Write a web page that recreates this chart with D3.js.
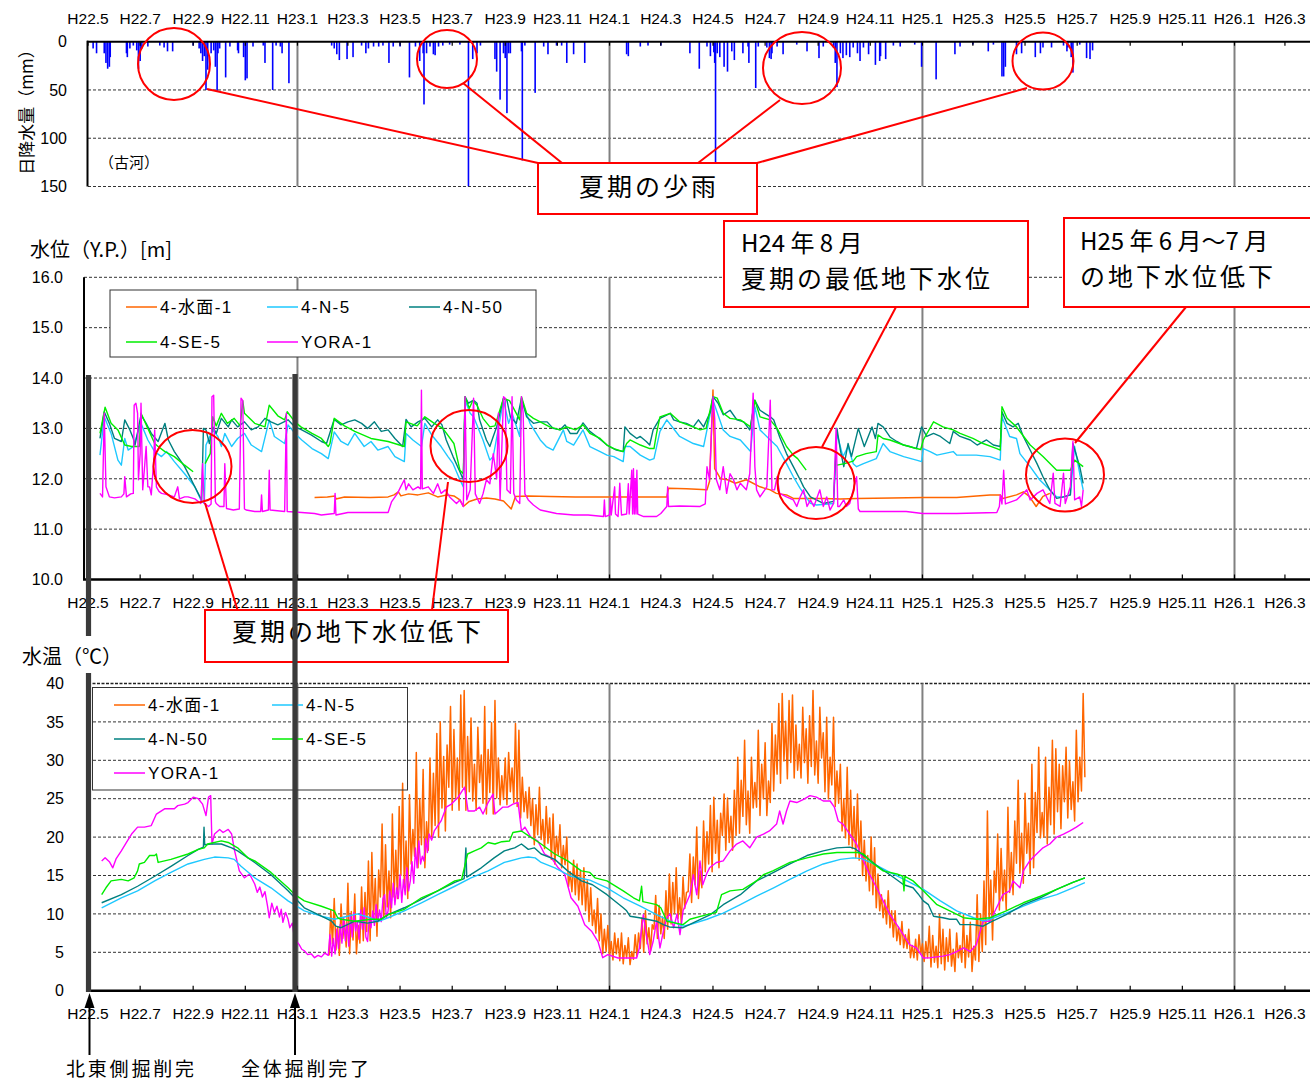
<!DOCTYPE html>
<html>
<head>
<meta charset="utf-8">
<script src="https://cdn.jsdelivr.net/npm/d3@7"></script>
<style>
  body { margin: 0; background: #fff; }
  svg { display: block; }
</style>
</head>
<body>
<svg id="chart" width="1310" height="1081"></svg>
<script>
// All dates are given as days elapsed since 2010-05-01 (H22.5).
const DAY0 = Date.UTC(2010, 4, 1);

// Daily rainfall at Koga [day, mm]
const rainfall = [
  [6,7],[10,12],[19,12],[21,22],[23,28],[25,26],[26,16],[45,12],[46,16],[49,7],[53,4],[57,9],[59,28],[61,20],[63,7],[70,5],
  [84,4],[89,6],[93,10],[99,10],[123,4],[130,7],[132,12],[134,20],[136,15],[138,50],[140,29],[144,12],[147,9],[149,26],[151,51],
  [152,12],[154,7],[161,37],[166,5],[175,9],[176,12],[182,16],[184,40],[186,38],[193,5],[205,4],[207,22],[216,50],[220,4],[225,5],
  [227,12],[235,43],
  [285,4],[288,7],[291,13],[294,19],[303,18],[310,16],[320,4],[325,12],[328,7],[334,5],[340,5],[345,4],[352,22],[357,5],[365,5],
  [376,37],[383,5],[388,20],[392,12],[393,65],[396,12],[400,5],[404,13],[406,14],[410,5],[415,4],[423,3],[435,3],[445,150],[450,18],
  [455,12],[459,4],[476,18],[478,31],[482,60],[486,12],[488,17],[490,74],[492,12],[494,12],[507,10],[508,123],[511,4],[523,53],
  [533,5],[538,13],[548,4],[554,4],[560,22],[568,13],[581,22],
  [630,13],[632,15],[646,5],[655,4],[670,4],[704,12],[715,28],[724,5],[728,15],[732,11],[733,22],[734,150],[736,12],[739,16],
  [744,26],[748,31],[753,10],[756,19],[766,12],[772,5],[773,22],[781,48],[784,5],[794,6],[797,17],[799,18],[800,12],[806,5],
  [813,13],[829,3],[841,10],[855,17],[860,5],[872,6],[874,22],[876,47],[880,12],[883,17],[887,14],[891,16],[895,6],[900,12],
  [903,20],[907,6],[913,13],[921,24],[926,20],[927,15],[933,18],[942,4],[950,5],[967,3],[975,26],
  [992,39],[1014,13],[1020,5],[1035,3],[1053,10],[1059,3],[1069,36],[1071,36],[1073,26],[1086,13],[1092,12],[1108,16],[1114,12],
  [1117,6],[1127,6],[1141,4],[1145,10],[1146,6],[1150,16],[1152,32],[1160,3],[1168,17],[1172,18],[1175,9]
];

// Groundwater level Y.P. [m]  [day, value]; null marks a gap in the record
const levelSuimen1 = [
  [265,11.63],[280,11.64],[289,11.66],[290,11.6],[300,11.64],[330,11.63],[351,11.64],[358,11.68],[363,11.74],[366,11.66],[375,11.7],
  [386,11.68],[398,11.72],[409,11.64],[420,11.68],[428,11.66],[435,11.58],[439,11.45],[446,11.55],[455,11.6],[466,11.62],[476,11.6],
  [486,11.56],[495,11.4],[500,11.65],[515,11.66],[540,11.65],[570,11.64],[600,11.64],[640,11.64],[677,11.64],[679,11.81],[700,11.8],
  [724,11.78],[727,11.95],[731,13.76],[733,12.2],[740,12.0],[748,11.98],[757,11.91],[770,11.98],[786,11.84],[798,11.78],[805,11.71],
  [817,11.68],[825,11.61],[840,11.61],[860,11.61],[880,11.6],[899,11.61],[940,11.62],[977,11.63],[1016,11.63],[1055,11.68],
  [1067,11.68],[1070,11.61],[1086,11.68],[1094,11.74],[1101,11.65],[1109,11.45],[1117,11.65],[1125,11.71]
];
const levelN5 = [
  [14,12.47],[19,13.23],[27,12.9],[35,12.37],[39,12.27],[43,12.8],[47,12.57],[53,12.64],[62,13.1],[70,12.77],[78,12.54],[86,12.44],
  [92,12.54],[101,12.34],[113,12.1],[125,11.84],[132,11.58],[136,11.51],
  [138,12.67],[146,12.97],[152,12.84],[156,12.64],[160,12.9],[168,12.64],[175,12.8],[183,12.9],[191,12.67],[203,12.54],[212,13.17],
  [218,12.84],[230,12.7],[234,13.07],[242,12.9],[250,12.77],[262,12.6],[273,12.5],[281,12.4],[288,12.93],[296,12.74],[304,12.67],
  [312,12.9],[323,12.64],[331,12.74],[339,12.57],[351,12.64],[359,12.44],[370,12.34],[372,12.9],[380,12.77],[390,12.64],[394,13.1],
  [402,12.87],[413,12.64],[421,12.44],[427,12.3],[435,11.98],[439,11.84],[441,13.56],[447,13.3],[451,13.23],[462,12.77],[470,12.37],
  [474,12.44],[486,13.56],[492,13.1],[496,13.3],[505,12.84],[507,13.56],[517,13.1],[529,12.77],[536,12.64],[544,12.57],[556,12.97],
  [560,12.74],[568,12.67],[579,12.97],[587,12.64],[599,12.54],[607,12.47],[615,12.44],[626,12.34],[628,12.64],[634,12.64],
  [646,12.47],[657,12.37],[662,12.4],[669,12.94],[677,13.17],[692,12.84],[708,12.7],[720,12.64],[731,13.56],[743,12.97],
  [751,12.84],[763,12.77],[775,12.54],[780,13.43],[786,12.97],[798,12.77],[806,12.64],[817,12.3],[825,12.04],[833,11.81],
  [837,11.71],[845,11.51],[852,11.48],[872,11.51],[876,12.9],[883,12.44],[889,12.64],[895,12.3],[899,12.24],[907,12.3],
  [922,12.4],[930,12.7],[938,12.54],[954,12.44],[969,12.37],[975,12.34],[977,12.6],[985,12.54],[993,12.47],[1012,12.54],
  [1016,12.47],[1039,12.47],[1055,12.44],[1067,12.37],[1069,13.23],[1078,12.84],[1086,12.8],[1090,12.5],[1102,12.24],
  [1113,11.98],[1125,11.78],[1133,11.64],[1141,11.64],[1149,11.68],[1154,12.64],[1160,12.1],[1164,11.78]
];
const levelN50 = [
  [14,12.8],[19,13.33],[25,13.1],[31,12.8],[39,12.74],[43,13.17],[49,12.97],[53,12.8],[55,12.67],[62,13.27],[68,13.1],[74,12.9],
  [82,12.74],[90,13.1],[94,12.77],[101,12.54],[113,12.24],[125,11.84],[131,11.64],[133,11.58],[135,13.0],[138,12.97],[142,12.7],
  [146,13.03],[150,12.9],[156,13.2],[164,13.03],[168,13.17],[175,13.03],[183,13.13],[191,12.97],[199,13.03],[207,13.2],[214,13.13],
  [222,13.07],[234,13.17],[242,13.03],[250,12.97],[261,12.87],[273,12.74],[279,12.7],[288,13.18],[296,13.07],[304,13.13],
  [312,13.17],[320,13.1],[327,13.0],[335,13.13],[343,12.94],[351,12.97],[359,12.8],[368,12.64],[372,13.18],[378,13.03],
  [386,13.13],[394,13.2],[402,13.03],[409,13.17],[414,13.07],[419,12.77],[427,12.44],[435,12.14],[439,11.98],[441,13.63],
  [445,13.5],[451,13.56],[455,13.5],[458,13.17],[466,12.77],[470,12.64],[474,12.84],[478,13.03],[486,13.6],[490,13.56],
  [494,13.23],[501,13.1],[507,13.6],[513,13.23],[521,13.1],[529,13.13],[537,13.13],[544,13.0],[552,12.97],[558,13.07],
  [564,12.9],[572,12.9],[579,13.11],[587,12.94],[595,12.84],[607,12.67],[618,12.57],[626,12.54],[628,13.03],[634,12.9],
  [642,12.8],[646,12.84],[653,12.74],[657,12.67],[661,12.97],[669,13.2],[681,13.3],[685,13.17],[692,13.13],[700,13.1],
  [708,13.03],[714,13.17],[720,13.03],[728,13.33],[731,13.63],[737,13.5],[743,13.27],[751,13.36],[759,13.17],[767,13.13],
  [774,12.97],[780,13.56],[786,13.36],[798,13.23],[802,13.17],[809,12.83],[817,12.5],[825,12.24],[833,11.98],[837,11.84],
  [845,11.64],[852,11.58],[860,11.51],[872,11.55],[876,13.0],[880,12.57],[884,12.24],[889,12.7],[893,12.44],[901,13.0],
  [908,12.64],[917,13.03],[921,12.8],[924,13.1],[930,13.03],[938,12.83],[946,12.74],[954,12.67],[961,12.64],[969,12.6],
  [975,13.03],[981,12.84],[989,12.9],[997,12.84],[1008,12.7],[1012,12.94],[1020,12.84],[1032,12.77],[1040,12.67],[1051,12.77],
  [1059,12.67],[1067,12.64],[1069,13.33],[1075,13.1],[1082,13.03],[1088,13.1],[1094,12.84],[1102,12.57],[1110,12.3],
  [1117,12.04],[1125,11.78],[1133,11.61],[1141,11.64],[1149,11.68],[1152,12.7],[1160,12.24],[1164,11.91]
];
const levelSE5 = [
  [14,12.9],[20,13.42],[27,13.1],[35,12.97],[43,12.67],[51,12.64],[60,12.64],[62,13.3],[70,13.0],[78,12.7],[82,12.64],[90,12.54],
  [101,12.44],[113,12.27],[123,12.14],
  [130,null],
  [137,12.3],[143,12.5],[146,13.23],[150,13.05],[156,13.3],[163,13.1],[171,13.2],[178,13.05],[181,13.55],[183,13.3],[195,13.1],
  [207,13.03],[212,13.46],[222,13.25],[230,13.17],[233,13.33],[242,13.13],[249,13.03],[262,12.9],[273,12.8],[281,12.64],
  [283,12.7],[288,13.2],[300,13.05],[312,12.94],[331,12.8],[351,12.74],[370,12.64],[372,13.13],[385,13.05],[394,13.23],
  [405,13.1],[415,13.0],[428,12.7],[435,12.17],[439,12.1],[441,13.63],[446,13.4],[450,13.55],[455,13.46],[462,13.2],[470,13.03],
  [476,13.05],[486,13.6],[493,13.55],[505,13.17],[507,13.63],[513,13.3],[521,13.2],[529,13.13],[540,13.03],[552,12.97],
  [560,13.03],[570,12.97],[579,13.07],[587,12.9],[599,12.8],[607,12.67],[615,12.6],[626,12.54],[630,12.7],[634,12.77],
  [646,12.67],[657,12.6],[662,12.6],[665,12.9],[669,13.23],[681,13.3],[692,13.13],[708,13.03],[716,12.97],[723,13.0],
  [731,13.63],[736,13.6],[743,13.3],[751,13.2],[763,13.17],[775,13.03],[780,13.56],[786,13.23],[798,13.17],[806,13.0],
  [817,12.64],[825,12.47],[830,12.4],[840,12.17],
  [858,null],
  [876,12.27],[885,12.3],[895,12.35],[899,12.44],[910,12.5],[922,12.54],[924,12.87],[930,12.8],[938,12.77],[954,12.67],
  [969,12.6],[974,12.58],[977,12.77],[989,13.13],[1000,13.03],[1012,12.97],[1020,12.9],[1035,12.8],[1047,12.7],[1063,12.6],
  [1067,12.57],[1069,13.43],[1075,13.2],[1086,13.03],[1102,12.67],[1117,12.44],[1133,12.17],[1149,12.17],[1154,12.37],[1164,12.24]
];
const levelYora1 = [
  [14,11.71],[17,11.64],[19,13.3],[21,11.84],[25,11.64],[31,11.62],[39,11.64],[42,11.7],[43,12.04],[45,11.64],[50,11.7],[53,11.71],
  [54,13.46],[56,13.5],[58,13.3],[59,11.98],[61,12.5],[62,13.5],[64,11.78],[66,12.2],[68,12.64],[70,11.84],[72,11.84],[74,11.68],
  [77,12.4],[78,12.97],[80,11.84],[83,11.75],[86,11.71],[94,11.68],[101,11.64],[105,11.84],[107,11.6],[113,11.64],[117,11.64],
  [125,11.6],[132,11.51],[134,12.3],[136,11.51],[141,11.45],[144,11.5],[145,13.63],[147,13.66],[149,11.55],[150,11.51],[154,11.45],
  [159,11.45],[160,12.3],[162,11.41],[170,11.38],[177,11.4],[179,13.6],[181,13.55],[183,11.4],[185,11.38],[195,11.35],[202,11.35],
  [203,11.68],[204,11.35],[211,11.38],[212,12.17],[213,11.38],[230,11.35],[232,13.3],[233,11.35],[250,11.33],[265,11.31],
  [273,11.28],[288,11.31],[289,11.71],[290,11.28],[304,11.33],[330,11.33],[351,11.33],[355,11.54],[362,11.71],[366,11.85],
  [370,11.98],[372,11.78],[375,11.9],[380,11.78],[386,11.84],[389,11.8],[390,13.76],[391,11.8],[398,11.84],[404,11.71],
  [409,11.9],[413,11.71],[418,11.78],[423,11.64],[431,11.51],[435,11.58],[439,11.45],[441,13.63],[443,11.58],[447,11.78],
  [451,13.6],[453,11.7],[458,11.51],[462,11.7],[466,11.98],[470,11.9],[474,12.5],[478,12.0],[480,13.3],[482,11.58],[486,13.63],
  [488,13.6],[490,11.78],[494,11.71],[496,13.63],[498,11.71],[501,11.58],[505,11.51],[507,13.63],[509,13.3],[511,11.7],
  [515,11.58],[521,11.48],[529,11.38],[548,11.31],[568,11.28],[585,11.28],[603,11.25],[604,11.58],[605,11.25],[610,11.28],
  [611,11.62],[612,11.28],[616,11.84],[617,11.3],[620,11.25],[622,11.91],[624,11.28],[630,11.3],[632,11.9],[633,11.3],
  [636,12.17],[637,11.3],[638,12.2],[639,11.3],[640,12.0],[641,11.3],[642,12.17],[643,11.3],[650,11.25],[665,11.25],
  [670,11.31],[677,11.45],[678,11.84],[679,11.45],[692,11.46],[716,11.45],[722,11.5],[724,12.24],[727,11.98],[731,13.63],
  [733,13.2],[735,11.98],[739,11.78],[743,12.24],[747,11.71],[751,12.1],[755,11.98],[759,11.78],[763,11.91],[770,11.78],
  [774,12.1],[778,13.7],[780,12.24],[782,11.78],[786,11.64],[794,11.84],[798,13.56],[800,11.78],[803,11.78],[806,12.04],
  [809,11.71],[817,11.64],[825,11.58],[829,11.45],[833,11.64],[837,11.78],[841,11.45],[845,11.58],[849,11.45],[856,11.78],
  [860,11.45],[864,11.64],[868,11.38],[872,11.51],[875,13.0],[877,11.45],[879,11.45],[884,11.58],[887,11.45],[891,11.51],
  [899,12.04],[901,11.4],[903,11.35],[930,11.35],[957,11.35],[976,11.31],[1016,11.31],[1063,11.33],[1066,11.45],[1067,11.68],
  [1069,11.5],[1071,12.17],[1073,11.5],[1086,11.58],[1094,11.71],[1098,11.78],[1102,11.58],[1110,11.71],[1117,11.78],
  [1125,11.51],[1129,12.11],[1131,11.51],[1137,11.45],[1141,12.11],[1143,11.51],[1149,11.84],[1152,12.74],[1154,11.58],
  [1160,11.64],[1162,11.45],[1164,11.78]
];

// Water temperature [°C]. 4-水面-1 is logged every 2 days from day 282.
const tempSuimen1Start = 282;
const tempSuimen1Step = 2;
const tempSuimen1 = [
  4.6,10.5,6.1,12.0,5.3,8.3,4.6,11.3,6.8,9.0,
  5.7,14.0,4.8,10.3,6.6,12.6,4.8,8.5,6.2,13.5,
  6.5,12.8,7.7,16.9,6.5,18.0,9.4,14.6,7.1,15.7,
  12.2,21.7,9.5,19.0,10.9,15.6,9.5,23.0,12.2,18.3,
  12.0,24.0,15.0,27.0,13.5,19.5,12.0,25.5,16.5,21.0,
  17.5,31.0,16.0,25.0,19.0,28.8,16.0,22.0,18.3,30.3,
  20.0,28.3,21.5,33.5,20.0,35.0,23.8,30.5,20.8,32.0,
  26.5,37.0,23.5,34.0,25.0,30.3,23.5,38.5,26.5,39.1,
  23.5,33.1,25.9,35.5,24.7,29.5,23.5,34.3,27.1,30.7,
  24.4,37.0,23.0,31.4,25.8,34.9,23.0,37.8,25.1,30.3,
  24.2,28.0,24.9,30.3,24.2,31.0,25.9,29.0,24.5,34.8,
  24.0,33.9,22.5,27.8,23.3,25.9,22.5,26.5,21.5,25.0,
  19.0,24.2,20.3,26.5,19.7,22.3,18.5,24.0,19.2,22.5,
  17.1,23.0,16.5,20.1,17.7,21.6,16.0,18.9,16.4,20.0,
  13.5,15.5,12.9,17.0,12.5,16.5,11.8,15.6,11.2,16.0,
  10.4,14.3,9.0,13.4,8.5,10.5,7.5,12.0,6.5,10.0,
  4.8,8.0,5.1,8.5,4.6,6.4,4.0,7.5,4.8,6.8,
  3.9,7.5,3.5,5.9,4.3,6.9,3.4,5.1,4.1,7.3,
  4.5,7.5,5.5,9.5,5.0,10.4,6.1,8.2,5.2,8.6,
  8.0,12.4,6.8,11.1,7.4,9.6,6.8,13.0,8.0,15.2,
  8.7,14.1,10.1,16.0,9.4,12.1,8.7,14.8,10.7,12.8,
  12.9,17.8,11.5,17.4,13.8,21.3,12.0,15.6,13.4,22.1,
  15.5,20.7,16.5,24.1,15.5,25.2,17.9,22.2,16.0,23.1,
  20.2,25.6,18.3,25.1,19.3,22.7,18.3,26.1,20.2,30.4,
  20.5,27.4,22.7,32.6,21.6,26.0,20.5,30.4,23.8,27.1,
  23.9,33.9,22.8,29.5,25.0,32.3,22.8,27.3,24.5,34.8,
  26.0,33.3,28.2,37.4,27.0,38.7,29.9,35.1,27.6,37.8,
  29.7,38.5,27.7,34.6,28.7,32.1,27.7,36.9,29.7,34.1,
  27.0,35.8,29.2,39.1,28.1,32.5,27.0,36.9,30.3,33.6,
  25.9,35.6,25.0,30.4,26.8,35.6,24.0,28.6,24.4,29.5,
  20.8,25.0,19.9,29.1,19.0,26.1,18.5,24.0,17.3,25.6,
  17.0,22.1,15.0,19.6,14.3,17.6,13.0,20.0,12.5,18.6,
  10.8,15.2,10.4,12.5,9.5,11.8,8.7,13.0,8.2,10.4,
  7.0,10.4,6.5,8.3,6.0,9.0,5.6,7.3,5.5,8.0,
  4.3,5.9,4.3,6.7,4.0,7.3,4.8,6.1,3.8,6.4,
  4.3,8.4,3.1,7.2,3.7,5.8,3.0,9.9,3.5,8.0,
  2.7,6.9,3.8,8.0,3.2,5.4,2.5,7.5,4.3,5.9,
  3.7,9.9,3.0,7.2,4.4,8.9,2.5,5.8,4.0,12.5,
  3.8,10.0,5.1,14.3,6.0,23.4,9.0,14.4,6.6,15.6,
  12.8,20.4,10.5,18.5,11.7,15.7,10.5,23.9,12.8,18.0,
  12.5,22.1,16.6,27.4,15.3,20.5,14.0,25.7,17.9,21.8,
  15.2,29.5,16.0,25.8,20.6,31.7,19.9,23.2,20.0,30.4,
  19.1,26.5,21.6,32.6,20.4,31.5,23.3,29.5,21.1,29.3,
  24.6,31.7,22.5,29.9,23.6,27.2,22.1,33.9,24.6,30.4,
  26.0,38.7,27.8
];
const tempN5 = [
  [16,10.8],[39,12.1],[58,13.0],[78,14.3],[97,15.4],[117,16.5],[136,17.1],[148,17.4],[164,17.3],[171,17.1],[179,16.2],[195,14.7],
  [214,13.4],[234,11.7],[253,10.4],[273,9.7],[288,9.3],[300,9.6],[315,10.0],[330,9.5],[339,9.0],[351,9.5],[370,10.4],[390,11.45],
  [409,12.5],[429,13.6],[448,14.7],[468,15.6],[487,16.7],[507,17.3],[515,17.4],[523,17.3],[530,16.7],[546,16.0],[565,14.9],
  [587,14.4],[607,13.4],[626,12.1],[646,11.0],[665,9.9],[681,9.05],[696,8.4],[704,8.6],[724,9.3],[743,10.1],[763,11.2],[782,12.3],
  [802,13.4],[821,14.5],[841,15.6],[860,16.5],[880,17.1],[895,17.3],[905,17.2],[919,16.5],[938,15.4],[958,14.3],[977,13.2],
  [997,11.7],[1016,10.4],[1036,9.5],[1047,9.1],[1055,9.3],[1074,10.1],[1094,11.0],[1114,11.9],[1133,12.5],[1152,13.4],[1166,14.06]
];
const tempN50 = [
  [16,11.45],[39,12.5],[58,13.6],[78,14.9],[97,16.2],[117,17.6],[129,18.4],[135,18.7],[135.7,21.3],[136.5,19.0],[144,19.1],
  [156,19.1],[168,18.6],[175,18.2],[195,16.7],[214,15.1],[234,13.0],[253,10.8],[273,9.7],[285,9.05],[290,8.4],[296,8.2],
  [312,9.05],[327,8.8],[339,9.05],[351,9.9],[370,10.8],[390,11.9],[409,13.0],[429,14.1],[440,14.6],[442,18.6],[443,14.8],
  [460,16.0],[475,17.3],[487,18.2],[499,18.6],[507,19.1],[515,18.4],[522,18.6],[530,17.8],[546,17.1],[561,15.6],[577,14.3],
  [590,13.8],[607,12.5],[626,10.8],[630,10.4],[634,9.7],[645,9.5],[665,9.05],[673,8.6],[680,8.3],[696,8.2],[712,9.05],
  [728,9.9],[743,11.2],[763,12.5],[782,14.3],[802,15.4],[821,16.5],[841,17.6],[860,18.2],[876,18.6],[891,18.7],[897,18.5],
  [911,17.3],[926,16.0],[938,15.1],[954,13.8],[965,13.4],[971,12.6],[977,11.7],[983,11.2],[989,9.7],[1000,9.5],[1008,9.3],
  [1016,9.3],[1020,8.6],[1035,8.6],[1047,8.4],[1055,8.9],[1074,9.9],[1094,11.2],[1114,12.1],[1133,13.2],[1152,14.1],[1166,14.7]
];
const tempSE5 = [
  [16,12.5],[21,13.4],[27,14.3],[39,14.5],[47,14.3],[54,14.7],[58,15.6],[60,16.5],[66,16.7],[72,17.6],[78,17.6],[80,17.8],
  [82,16.7],[97,17.1],[117,17.8],[129,18.4],[136,18.6],[140,19.1],[156,19.5],[164,19.3],[175,18.6],[187,17.3],[195,16.9],
  [214,15.4],[234,13.4],[242,12.5],[253,11.7],[273,11.0],[288,10.4],[292,9.5],[296,9.3],[312,9.05],[331,9.3],[343,9.3],
  [351,9.9],[370,10.6],[390,12.1],[409,13.0],[429,14.3],[437,14.5],[444,17.8],[452,18.2],[460,18.6],[468,19.3],[476,19.1],
  [484,19.4],[493,19.5],[497,20.6],[507,20.8],[515,20.2],[522,19.7],[530,19.1],[546,17.8],[561,16.9],[577,15.6],[587,15.4],
  [593,14.7],[607,14.3],[626,13.0],[638,12.1],[645,11.7],[647.5,13.6],[649,11.6],[665,11.2],[670,10.8],[677,9.05],[696,8.6],
  [704,9.3],[724,9.9],[735,10.2],[741,12.5],[751,13.0],[766,13.2],[782,14.3],[790,15.1],[801,15.6],[821,16.7],[841,17.3],
  [860,17.8],[876,18.0],[891,18.0],[900,18.0],[907,17.8],[919,16.5],[930,15.6],[946,15.2],[953,14.9],[954.4,13.0],[955.5,14.9],
  [965,14.3],[977,13.0],[993,11.2],[1008,10.4],[1024,9.5],[1039,9.3],[1055,9.5],[1074,10.4],[1094,11.45],[1114,12.3],
  [1133,13.2],[1152,14.1],[1166,14.7]
];
const tempYora1 = [
  [16,16.9],[20,17.3],[25,16.8],[29,16.0],[33,17.2],[39,18.2],[45,19.3],[51,20.4],[58,21.3],[66,21.3],[74,21.5],[80,23.0],
  [90,23.7],[101,23.7],[105,24.1],[113,24.3],[117,24.5],[123,25.2],[129,25.0],[134,24.3],[138,22.8],[141,25.2],[143.5,25.4],
  [145,19.1],[148,20.4],[154,21.0],[158,20.6],[164,21.0],[168,20.4],[171.5,18.2],[177,15.6],[183,14.7],[189,15.2],
  [195,13.9],[198,12.8],[201,13.5],[204,12.2],[207,12.9],[210,11.0],[212,9.5],[215,11.4],[218,10.2],[221,11.0],[224,9.6],
  [226,10.6],[228,8.9],[231,10.2],[234,9.3],[236,8.2],[239,8.8],[241,7.2],[244,6.4],[247,6.0],[250,5.4],[253,5.2],[257,4.7],
  [261,4.8],[265,4.3],[269,4.6],[273,4.4],[277,4.9],[281,4.6],[283,7.3],[285,4.5],[287,6.8],[289,4.8],[291,8.0],[293,5.5],
  [295,8.6],[297,6.2],[299,9.5],[301,6.5],[303,8.8],[305,5.8],[307,9.9],[309,7.0],[311,10.2],[313,7.8],[315,9.0],[317,6.7],
  [319,10.5],[321,8.0],[323,10.8],[325,7.0],[327,6.4],[329,9.6],[331,8.2],[333,10.4],[335,8.5],[337,11.2],[339,9.0],
  [341,10.5],[343,9.0],[345,12.0],[347,12.5],[349,9.5],[351,10.4],[353,13.0],[355,10.8],[357,14.0],[359,11.2],[361,13.4],
  [363,12.0],[365,15.1],[367,11.5],[369,14.5],[371,12.5],[373,16.0],[375,13.0],[377,14.3],[379,16.8],[381,14.0],[383,18.6],
  [385,16.0],[387,19.5],[389,16.5],[391,17.5],[393,16.9],[395,19.8],[397,18.0],[399,20.4],[402,19.6],[405,20.8],
  [413,22.1],[419,23.9],[425,24.3],[433,25.2],
  [440.5,26.5],[444.5,23.4],[452,23.4],[458,23.9],[462,23.0],[468,24.5],[473.7,25.6],[476,23.0],[480,23.4],[485,23.9],
  [491,23.9],[497,24.3],[503,24.5],[507,20.8],[511,21.3],[518,20.0],[526,19.5],[534,17.8],[542,17.3],[550,16.0],[557.5,15.2],
  [565,12.1],[573,11.0],[581,8.6],[589,7.75],[596.5,6.4],[602,4.3],[608,4.7],[620,4.26],[630,4.26],[641.7,4.26],[645,5.6],
  [649.5,9.9],[653,7.3],[657,4.7],[661,6.4],[665,9.05],[669,5.57],[673,7.75],[677,9.5],[681,10.0],[685,8.2],[689,10.0],
  [692.4,7.3],[696,10.4],[704,12.5],[708,15.1],[712,12.5],[715.8,16.9],[719,13.8],[723.5,15.2],[727,16.0],[735,16.7],
  [743,16.9],[751,18.2],[758.6,19.1],[766,19.5],[774,18.6],[782,20.0],[790,20.4],[797,20.8],[805.4,21.7],[809,23.4],
  [813,21.7],[817,23.4],[821,24.7],[829,24.5],[837,24.9],[844.4,25.4],[852,25.2],[860,24.7],[868,24.7],[873,23.9],
  [877.5,22.1],[883,21.7],[891,20.4],[899,19.1],[907,16.9],[914,15.2],[922.4,13.4],[930,11.7],[938,9.9],[946,8.6],
  [953.6,7.3],[961,6.0],[969,5.57],[977,4.26],[985,4.3],[993,4.4],[1000,4.5],[1008,4.7],[1016,5.1],[1024,5.57],[1032,5.1],
  [1039,6.0],[1047,9.05],[1055,9.05],[1062.7,10.8],[1070,12.5],[1078,13.0],[1082,14.3],[1090,13.4],[1094,15.6],[1102,17.0],
  [1109.5,17.8],[1117,18.6],[1125,19.1],[1133,20.0],[1141,20.4],[1148.5,20.8],[1156,21.3],[1164,21.9]
];

// Axis ticks
const rainTicks = [0, 50, 100, 150];
const levelTicks = [10, 11, 12, 13, 14, 15, 16];
const tempTicks = [0, 5, 10, 15, 20, 25, 30, 35, 40];

// Series names and colours
const seriesNames = ["4-水面-1", "4-N-5", "4-N-50", "4-SE-5", "YORA-1"];
const seriesColors = ["#ff6600", "#1ec8ff", "#008080", "#00ee00", "#ff00ff"];

// ---------------------------------------------------------------------------
const svg = d3.select("#chart");
const W = 1310;
const toDate = d => new Date(DAY0 + d * 864e5);
const NUM_FONT = "'Liberation Sans', Arial, sans-serif";
const JP_FONT = "'Noto Sans CJK JP', 'Noto Sans', sans-serif";
const MIX_FONT = "'Liberation Sans', 'Noto Sans CJK JP', sans-serif";

svg.append("rect").attr("width", W).attr("height", 1081).attr("fill", "#fff");

const x = d3.scaleUtc()
  .domain([new Date(DAY0), new Date(Date.UTC(2014, 0, 1))])
  .range([88, 1234.5]);
x.domain([x.domain()[0], x.invert(W)]).range([88, W]);

const monthTicks = d3.utcMonth.every(2).range(x.domain()[0], x.domain()[1]);
const yearLines = d3.utcYear.range(x.domain()[0], x.domain()[1]);
const fmtTick = d => `H${d.getUTCFullYear() - 1988}.${d.getUTCMonth() + 1}`;

const yRain = d3.scaleLinear().domain([0, 150]).range([41.7, 186.5]);
const yLevel = d3.scaleLinear().domain([10, 16]).range([579.5, 277.3]);
const yTemp = d3.scaleLinear().domain([0, 40]).range([990.7, 683.5]);

const defs = svg.append("defs");
function clip(id, x0, y0, y1) {
  defs.append("clipPath").attr("id", id)
    .append("rect").attr("x", x0).attr("y", y0).attr("width", W - x0).attr("height", y1 - y0);
  return `url(#${id})`;
}

function hGrid(g, y, vals, x0) {
  g.selectAll(null).data(vals).join("line")
    .attr("x1", x0).attr("x2", W)
    .attr("y1", d => y(d)).attr("y2", d => y(d))
    .attr("stroke", "#333").attr("stroke-width", 1).attr("stroke-dasharray", "3,2");
}
function vGrid(g, y0, y1) {
  g.selectAll(null).data(yearLines).join("line")
    .attr("x1", d => x(d)).attr("x2", d => x(d))
    .attr("y1", y0).attr("y2", y1)
    .attr("stroke", "#808080").attr("stroke-width", 2);
}
function yLabels(g, y, vals, xr, fmt) {
  g.selectAll(null).data(vals).join("text")
    .attr("x", xr).attr("y", d => y(d)).attr("dy", "0.36em")
    .attr("text-anchor", "end")
    .attr("font-family", NUM_FONT).attr("font-size", 16).attr("fill", "#000")
    .text(fmt);
}
function xTicks(g, yAxis, dir, len, labelY) {
  g.selectAll(null).data(monthTicks).join("line")
    .attr("x1", d => x(d)).attr("x2", d => x(d))
    .attr("y1", yAxis).attr("y2", yAxis + dir * len)
    .attr("stroke", "#000").attr("stroke-width", 1.2);
  g.selectAll(null).data(monthTicks).join("text")
    .attr("x", d => x(d)).attr("y", labelY)
    .attr("text-anchor", "middle")
    .attr("font-family", NUM_FONT).attr("font-size", 15.5).attr("fill", "#000")
    .text(fmtTick);
}
function drawLine(g, data, y, color, width) {
  const line = d3.line()
    .defined(d => d[1] != null)
    .x(d => x(toDate(d[0])))
    .y(d => y(d[1]));
  g.append("path").datum(data)
    .attr("d", line)
    .attr("fill", "none")
    .attr("stroke", color)
    .attr("stroke-width", width)
    .attr("stroke-linejoin", "round");
}

// ---------------- Rainfall panel ----------------
const gRain = svg.append("g");
hGrid(gRain, yRain, [50, 100, 150], 88);
vGrid(gRain, yRain(0), yRain(150));
gRain.append("g").attr("clip-path", clip("clipRain", 88, yRain(0), yRain(150)))
  .selectAll("rect").data(rainfall).join("rect")
  .attr("x", d => x(toDate(d[0])) - 0.8)
  .attr("y", yRain(0))
  .attr("width", 1.6)
  .attr("height", d => yRain(Math.min(d[1], 150)) - yRain(0))
  .attr("fill", "#0000ff");
gRain.append("line").attr("x1", 87).attr("x2", W).attr("y1", yRain(0)).attr("y2", yRain(0))
  .attr("stroke", "#000").attr("stroke-width", 2);
gRain.append("line").attr("x1", 87.5).attr("x2", 87.5).attr("y1", yRain(0) - 1).attr("y2", yRain(150))
  .attr("stroke", "#000").attr("stroke-width", 2);
xTicks(gRain, yRain(0), 1, 4, 24);
yLabels(gRain, yRain, rainTicks, 67, d => d);
gRain.append("text")
  .attr("transform", `translate(33,108) rotate(-90)`)
  .attr("text-anchor", "middle")
  .attr("font-family", JP_FONT).attr("font-size", 17).attr("fill", "#000")
  .text("日降水量（mm）");
gRain.append("text").attr("x", 99).attr("y", 168)
  .attr("font-family", JP_FONT).attr("font-size", 15).attr("fill", "#000")
  .text("（古河）");

// ---------------- Water level panel ----------------
const gLevel = svg.append("g");
hGrid(gLevel, yLevel, [11, 12, 13, 14, 15, 16], 84);
vGrid(gLevel, yLevel(16), yLevel(10));
const gLevelData = gLevel.append("g").attr("clip-path", clip("clipLevel", 85, yLevel(16), yLevel(10)));
drawLine(gLevelData, levelSuimen1, yLevel, seriesColors[0], 1.5);
drawLine(gLevelData, levelN5, yLevel, seriesColors[1], 1.4);
drawLine(gLevelData, levelN50, yLevel, seriesColors[2], 1.4);
drawLine(gLevelData, levelSE5, yLevel, seriesColors[3], 1.4);
drawLine(gLevelData, levelYora1, yLevel, seriesColors[4], 1.4);
gLevel.append("line").attr("x1", 83).attr("x2", W).attr("y1", yLevel(10)).attr("y2", yLevel(10))
  .attr("stroke", "#000").attr("stroke-width", 2.5);
gLevel.append("line").attr("x1", 84).attr("x2", 84).attr("y1", yLevel(16)).attr("y2", yLevel(10))
  .attr("stroke", "#000").attr("stroke-width", 2);
xTicks(gLevel, yLevel(10), -1, 5, 608);
yLabels(gLevel, yLevel, levelTicks, 63, d => d.toFixed(1));
gLevel.append("text").attr("x", 30).attr("y", 257)
  .attr("font-family", JP_FONT).attr("font-size", 20).attr("fill", "#000")
  .text("水位（Y.P.）[m]");

// legend (opaque)
const lgL = gLevel.append("g");
lgL.append("rect").attr("x", 110).attr("y", 290).attr("width", 426).attr("height", 67)
  .attr("fill", "#fff").attr("stroke", "#333").attr("stroke-width", 1);
const levelLegend = [
  { i: 0, x: 126, y: 307 }, { i: 1, x: 267, y: 307 }, { i: 2, x: 409, y: 307 },
  { i: 3, x: 126, y: 342 }, { i: 4, x: 267, y: 342 }
];
function legendItems(g, items) {
  items.forEach(it => {
    g.append("line").attr("x1", it.x).attr("x2", it.x + 31).attr("y1", it.y).attr("y2", it.y)
      .attr("stroke", seriesColors[it.i]).attr("stroke-width", 1.5);
    g.append("text").attr("x", it.x + 34).attr("y", it.y).attr("dy", "0.36em")
      .attr("font-family", MIX_FONT).attr("font-size", 17).attr("letter-spacing", 1.4)
      .attr("fill", "#000").text(seriesNames[it.i]);
  });
}
legendItems(lgL, levelLegend);

// ---------------- Water temperature panel ----------------
const gTemp = svg.append("g");
hGrid(gTemp, yTemp, [5, 10, 15, 20, 25, 30, 35], 88);
gTemp.append("line").attr("x1", 88).attr("x2", W).attr("y1", yTemp(40)).attr("y2", yTemp(40))
  .attr("stroke", "#222").attr("stroke-width", 1.6).attr("stroke-dasharray", "3,1.5");
vGrid(gTemp, yTemp(40), yTemp(0));
const gTempData = gTemp.append("g").attr("clip-path", clip("clipTemp", 89, yTemp(40), yTemp(0)));
const tempSuimen1Pts = tempSuimen1.map((v, i) => [tempSuimen1Start + i * tempSuimen1Step, v]);
drawLine(gTempData, tempSuimen1Pts, yTemp, seriesColors[0], 1.5);
drawLine(gTempData, tempYora1, yTemp, seriesColors[4], 1.4);
drawLine(gTempData, tempN5, yTemp, seriesColors[1], 1.4);
drawLine(gTempData, tempN50, yTemp, seriesColors[2], 1.4);
drawLine(gTempData, tempSE5, yTemp, seriesColors[3], 1.4);
gTemp.append("line").attr("x1", 87).attr("x2", W).attr("y1", yTemp(0)).attr("y2", yTemp(0))
  .attr("stroke", "#000").attr("stroke-width", 2.5);
gTemp.append("line").attr("x1", 88).attr("x2", 88).attr("y1", yTemp(40)).attr("y2", yTemp(0))
  .attr("stroke", "#000").attr("stroke-width", 2);
xTicks(gTemp, yTemp(0), -1, 5, 1019);
yLabels(gTemp, yTemp, tempTicks, 64, d => d);
gTemp.append("text").attr("x", 22).attr("y", 664)
  .attr("font-family", JP_FONT).attr("font-size", 20).attr("fill", "#000")
  .text("水温（℃）");

// legend (transparent)
const lgT = gTemp.append("g");
lgT.append("rect").attr("x", 92.5).attr("y", 687.5).attr("width", 315).attr("height", 102.5)
  .attr("fill", "none").attr("stroke", "#333").attr("stroke-width", 1);
legendItems(lgT, [
  { i: 0, x: 114, y: 705 }, { i: 1, x: 272, y: 705 },
  { i: 2, x: 114, y: 739 }, { i: 3, x: 272, y: 739 },
  { i: 4, x: 114, y: 773 }
]);

// ---------------- Annotations ----------------
const RED = "#ff0000";
const gAnn = svg.append("g").attr("fill", "none").attr("stroke", RED).attr("stroke-width", 2);

// dry summers in the rainfall record
[[174, 64, 36, 36], [447, 59, 30, 29], [802, 68, 39, 36], [1043, 61, 30.5, 28.5]]
  .forEach(e => gAnn.append("ellipse").attr("cx", e[0]).attr("cy", e[1]).attr("rx", e[2]).attr("ry", e[3]));
[[207, 89, 538, 163], [463, 83, 562, 163], [780, 100, 698, 163], [1027, 88, 757, 163]]
  .forEach(l => gAnn.append("line").attr("x1", l[0]).attr("y1", l[1]).attr("x2", l[2]).attr("y2", l[3]));

// groundwater drawdown episodes
[[192.5, 466.5, 39, 36.5], [469, 446, 38.5, 36], [816, 483, 38.5, 36], [1065, 475, 39, 36.5]]
  .forEach(e => gAnn.append("ellipse").attr("cx", e[0]).attr("cy", e[1]).attr("rx", e[2]).attr("ry", e[3]));
[[205, 503, 237.5, 610], [448, 482, 432, 610], [822, 447, 896, 307], [1075, 443, 1186, 307]]
  .forEach(l => gAnn.append("line").attr("x1", l[0]).attr("y1", l[1]).attr("x2", l[2]).attr("y2", l[3]));

function calloutBox(x0, y0, x1, y1) {
  svg.append("rect").attr("x", x0).attr("y", y0).attr("width", x1 - x0).attr("height", y1 - y0)
    .attr("fill", "#fff").attr("stroke", RED).attr("stroke-width", 2);
}
function calloutText(x0, y, txt, anchor) {
  svg.append("text").attr("x", x0).attr("y", y)
    .attr("text-anchor", anchor || "start")
    .attr("font-family", JP_FONT).attr("font-size", 25).attr("letter-spacing", 3)
    .attr("fill", "#000").text(txt);
}
calloutBox(538, 163, 757, 214);
calloutText(649, 196, "夏期の少雨", "middle");
calloutBox(205, 610, 508, 662);
calloutText(358, 641, "夏期の地下水位低下", "middle");
calloutBox(724, 221, 1028, 307);
svg.append("text").attr("x", 741).attr("y", 252)
  .attr("font-family", JP_FONT).attr("font-size", 24).attr("fill", "#000").text("H24 年 8 月");
calloutText(741, 288, "夏期の最低地下水位");
calloutBox(1064, 218, 1312, 307);
svg.append("text").attr("x", 1080).attr("y", 250)
  .attr("font-family", JP_FONT).attr("font-size", 24).attr("fill", "#000").text("H25 年 6 月～7 月");
calloutText(1080, 286, "の地下水位低下");

// ---------------- Excavation milestones ----------------
const gMile = svg.append("g");
const mileBars = [
  { x: 88.5, segs: [[375, 636], [673, 992]] },
  { x: 295, segs: [[374, 992]] }
];
mileBars.forEach(b => b.segs.forEach(s => {
  gMile.append("rect").attr("x", b.x - 2.6).attr("y", s[0]).attr("width", 5.2).attr("height", s[1] - s[0])
    .attr("fill", "#3a3a3a");
}));
const arrows = [
  { x: 89.5, label: "北東側掘削完", lx: 66 },
  { x: 295, label: "全体掘削完了", lx: 241 }
];
arrows.forEach(a => {
  gMile.append("line").attr("x1", a.x).attr("x2", a.x).attr("y1", 1005).attr("y2", 1055)
    .attr("stroke", "#000").attr("stroke-width", 2);
  gMile.append("path")
    .attr("d", `M${a.x},993 L${a.x - 5},1008 L${a.x + 5},1008 Z`)
    .attr("fill", "#000");
  gMile.append("text").attr("x", a.lx).attr("y", 1076)
    .attr("font-family", JP_FONT).attr("font-size", 19).attr("letter-spacing", 2.8)
    .attr("fill", "#000").text(a.label);
});
</script>
</body>
</html>
